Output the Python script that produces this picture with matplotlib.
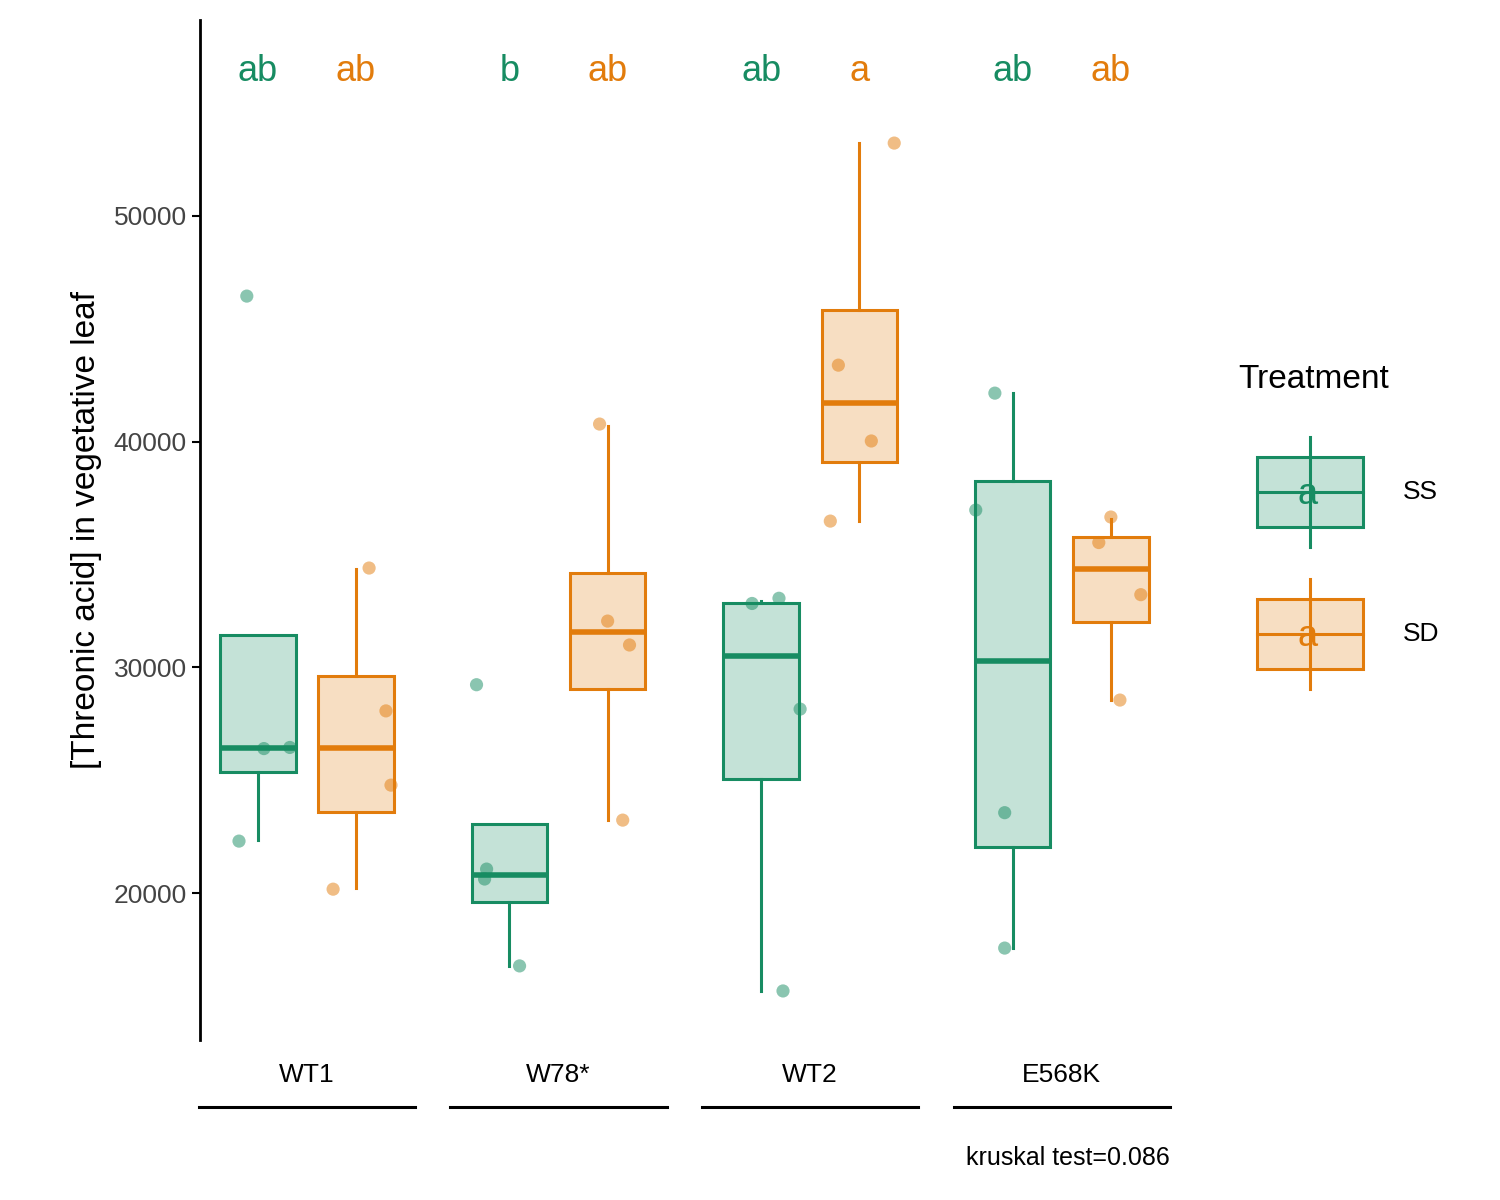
import numpy as np
import matplotlib.pyplot as plt
import matplotlib.transforms as mtransforms
from matplotlib.patches import Rectangle

plt.rcParams['font.family'] = ['Liberation Sans', 'DejaVu Sans']

genotypes = ["WT1", "W78*", "WT2", "E568K"]
treatments = ["SS", "SD"]
colors = {"SS": "#178c62", "SD": "#e27c0c"}

# box stats per genotype: (whislo, q1, med, q3, whishi)
stats_ss = [(22350, 25360, 26420, 31430, 31430),
            (16770, 19600, 20800, 23060, 23060),
            (15660, 25050, 30500, 32850, 32950),
            (17560, 22040, 30280, 38250, 42150)]
stats_sd = [(20220, 23590, 26420, 29610, 34350),
            (23230, 29040, 31560, 34180, 40690),
            (36480, 39090, 41710, 45830, 53230),
            (28550, 32000, 34350, 35770, 36570)]

# raw points and their horizontal jitter (fraction of group spacing)
pts_ss = [[46450, 26400, 26450, 22300],
          [29230, 21060, 20620, 16770],
          [32830, 33060, 28150, 15660],
          [42150, 36970, 23560, 17560]]
jit_ss = [[-0.044, 0.024, 0.127, -0.075],
          [-0.131, -0.091, -0.099, 0.040],
          [-0.036, 0.071, 0.155, 0.087],
          [-0.071, -0.147, -0.032, -0.032]]
pts_sd = [[34400, 28070, 24780, 20170],
          [40780, 32050, 30990, 23230],
          [53230, 43390, 40030, 36480],
          [36660, 35530, 33220, 28550]]
jit_sd = [[0.052, 0.119, 0.139, -0.091],
          [-0.032, 0.0, 0.087, 0.060],
          [0.139, -0.083, 0.048, -0.115],
          [0.0, -0.048, 0.119, 0.036]]

letters_ss = ["ab", "b", "ab", "ab"]
letters_sd = ["ab", "ab", "a", "ab"]

fig = plt.figure(figsize=(15, 12), dpi=100)
ax = fig.add_axes([200/1500, 160/1200, 970/1500, 1020/1200])

dodge = 0.195
width = 0.30
xs = np.arange(1, len(genotypes) + 1)

for trt, stats, pts, jit, lets, off in [("SS", stats_ss, pts_ss, jit_ss, letters_ss, -dodge),
                                       ("SD", stats_sd, pts_sd, jit_sd, letters_sd, dodge)]:
    c = colors[trt]
    bstats = [dict(whislo=s[0], q1=s[1], med=s[2], q3=s[3], whishi=s[4]) for s in stats]
    ax.bxp(bstats, positions=xs + off, widths=width, showfliers=False, showcaps=False,
           patch_artist=True,
           boxprops=dict(facecolor=c + "40", edgecolor=c, linewidth=2.2),
           medianprops=dict(color=c, linewidth=4),
           whiskerprops=dict(color=c, linewidth=2.2))
    for i in range(len(genotypes)):
        ax.scatter(xs[i] + off + np.array(jit[i]), pts[i], s=90, color=c, alpha=0.5,
                   edgecolors="none", zorder=3)
        ax.text(xs[i] + off, 56400, lets[i], color=c, fontsize=26, ha="center", va="center")

ax.set_xlim(0.575, 4.43)
ax.set_ylim(13487, 58684)
ax.set_yticks([20000, 30000, 40000, 50000])
ax.tick_params(axis="y", labelsize=19, labelcolor="#444444", length=6, width=1.5)
ax.tick_params(axis="x", bottom=False, labelbottom=False)
for sp in ["top", "right", "bottom"]:
    ax.spines[sp].set_visible(False)
ax.spines["left"].set_linewidth(2)
ax.set_ylabel("[Threonic acid] in vegetative leaf", fontsize=24, labelpad=8)

# bottom strips
trans = mtransforms.blended_transform_factory(ax.transData, ax.transAxes)
for x, g in zip(xs, genotypes):
    ax.plot([x - 0.43, x + 0.43], [-0.066, -0.066], color="black", lw=2.2,
            transform=trans, clip_on=False)
    ax.text(x, -0.034, g, transform=trans, ha="center", va="center", fontsize=19)
ax.text(1.0, -0.116, "kruskal test=0.086", transform=ax.transAxes, ha="right",
        va="center", fontsize=18)

# legend
lax = fig.add_axes([0, 0, 1, 1])
lax.set_xlim(0, 1500)
lax.set_ylim(1200, 0)
lax.axis("off")
lax.text(1238, 380, "Treatment", fontsize=24, va="center", ha="left")
for trt, yc in zip(treatments, [492, 634]):
    c = colors[trt]
    lax.plot([1310, 1310], [yc - 55, yc + 55], color=c, lw=2.2)
    lax.add_patch(Rectangle((1257, yc - 35), 106, 70, facecolor=c + "40", edgecolor=c, lw=2.2))
    lax.plot([1257, 1363], [yc, yc], color=c, lw=2.2)
    lax.text(1308, yc + 2, "a", color=c, fontsize=26, ha="center", va="center")
    lax.text(1403, yc, trt, fontsize=19, ha="left", va="center")

fig.savefig("out.png")
